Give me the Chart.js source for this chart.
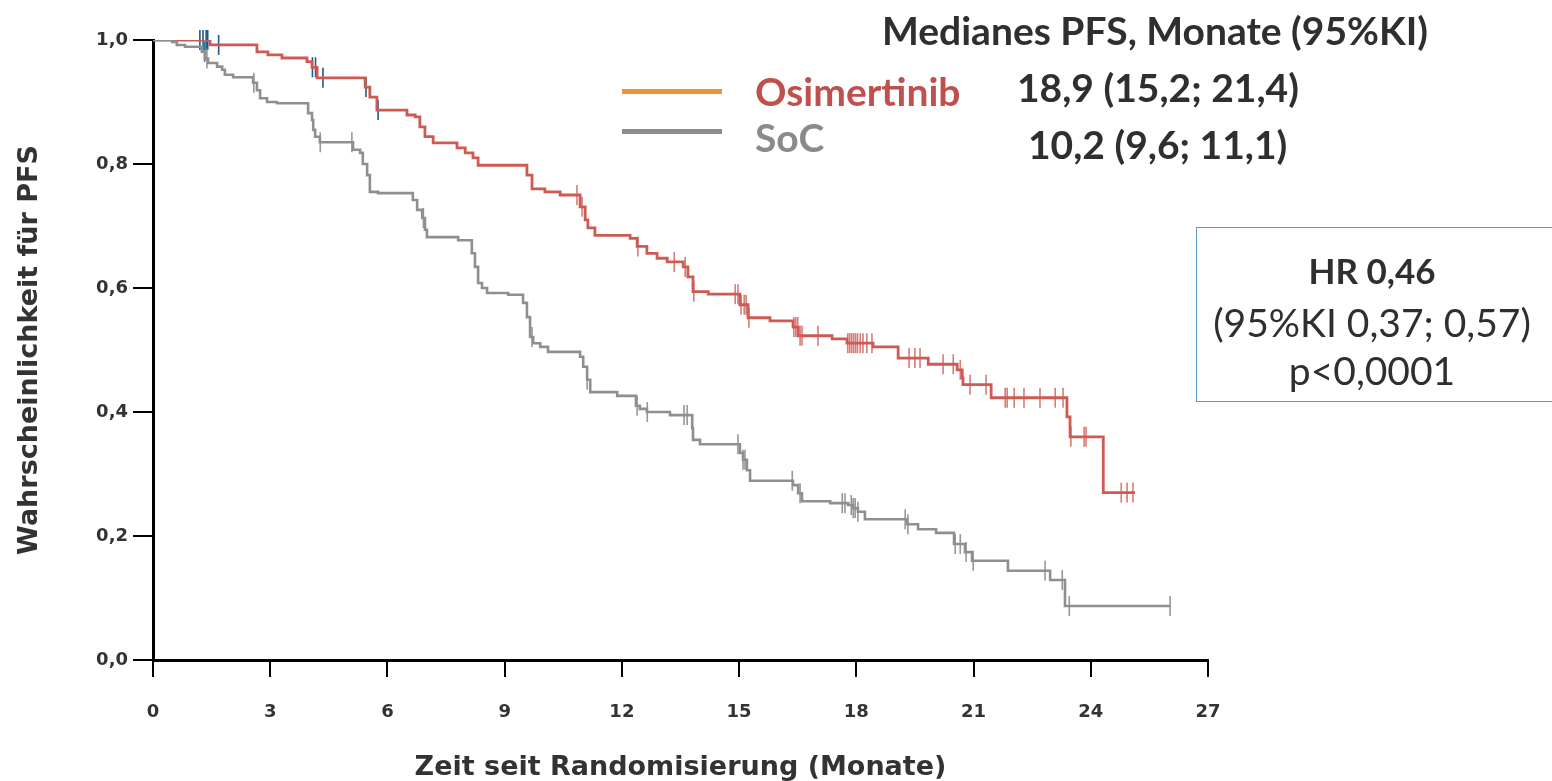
<!DOCTYPE html>
<html>
<head>
<meta charset="utf-8">
<script src="https://cdn.jsdelivr.net/npm/chart.js@4.4.1/dist/chart.umd.min.js"></script>
<style>
  html, body { margin: 0; padding: 0; background: #fff; }
  #wrap { position: relative; width: 1552px; height: 781px; overflow: hidden; }
  #km { position: absolute; left: 0; top: 0; }
  .txt { position: absolute; font-family: Lato, "Open Sans", sans-serif; color: #2f2f2f; white-space: nowrap; line-height: 1; }
  .mid { transform: translateY(-50%); }
  .ctr { transform: translate(-50%, -50%); }
  .swatch { position: absolute; width: 100px; height: 5px; }
  #hrbox { position: absolute; left: 1196px; top: 227px; width: 370px; height: 175px; border: 1.5px solid #5b9bd5; box-sizing: border-box; }
</style>
</head>
<body>
<div id="wrap">
  <canvas id="km" width="1552" height="781"></canvas>

  <div class="txt mid" style="left:882px; top:30px; font-size:39px; font-weight:700;">Medianes PFS, Monate (95%KI)</div>

  <div class="swatch" style="left:622px; top:89px; background:#f0923a;"></div>
  <div class="swatch" style="left:622px; top:129px; background:#8c8c8c;"></div>
  <div class="txt mid" style="left:755px; top:91px; font-size:39px; font-weight:700; color:#c0504d;">Osimertinib</div>
  <div class="txt mid" style="left:755px; top:137px; font-size:39px; font-weight:700; color:#8a8a8a;">SoC</div>
  <div class="txt mid" style="left:1017px; top:87px; font-size:39px; font-weight:700;">18,9 (15,2; 21,4)</div>
  <div class="txt mid" style="left:1028px; top:144px; font-size:39px; font-weight:700;">10,2 (9,6; 11,1)</div>

  <div id="hrbox"></div>
  <div class="txt ctr" style="left:1372px; top:270px; font-size:35px; font-weight:700;">HR 0,46</div>
  <div class="txt ctr" style="left:1372px; top:322px; font-size:39px;">(95%KI 0,37; 0,57)</div>
  <div class="txt ctr" style="left:1372px; top:370px; font-size:39px;">p&lt;0,0001</div>
</div>

<script>
// Kaplan-Meier Stufen: Zeitpunkt (Monate) und PFS-Wahrscheinlichkeit nach dem Ereignis
const osiTime = [0, 1.46, 2.66, 2.94, 3.30, 3.94, 4.07, 4.20, 5.43, 5.55, 5.73, 6.50, 6.71, 6.83, 6.96, 7.17,
  7.78, 7.99, 8.19, 8.32, 9.57, 9.70, 10.03, 10.42, 10.93, 11.06, 11.13, 11.31, 12.21, 12.39, 12.64, 12.90,
  13.16, 13.57, 13.69, 13.82, 14.21, 15.02, 15.23, 15.79, 16.38, 16.51, 17.38, 17.76, 18.43, 19.07, 19.84, 20.58,
  20.71, 20.73, 21.45, 23.39, 23.47, 24.32, 25.13];
const osiSurv = [1.0, 0.992, 0.981, 0.976, 0.971, 0.965, 0.956, 0.939, 0.924, 0.908, 0.887, 0.879, 0.876, 0.860, 0.844, 0.834,
  0.826, 0.818, 0.810, 0.798, 0.782, 0.760, 0.755, 0.750, 0.731, 0.710, 0.697, 0.685, 0.680, 0.667, 0.656, 0.648,
  0.642, 0.634, 0.618, 0.594, 0.590, 0.573, 0.552, 0.547, 0.537, 0.523, 0.518, 0.511, 0.505, 0.487, 0.477, 0.468,
  0.455, 0.444, 0.423, 0.392, 0.360, 0.270, 0.270];

const socTime = [0, 0.49, 0.61, 0.82, 1.25, 1.33, 1.41, 1.64, 1.77, 1.84, 2.05, 2.56, 2.66, 2.74, 2.92, 3.17,
  3.97, 4.07, 4.10, 4.15, 4.27, 5.12, 5.30, 5.37, 5.48, 5.55, 5.76, 6.65, 6.76, 6.89, 6.96, 7.01,
  7.81, 8.16, 8.24, 8.32, 8.42, 8.55, 9.09, 9.47, 9.57, 9.65, 9.73, 9.91, 10.11, 10.93, 11.01, 11.11,
  11.19, 11.88, 12.36, 12.46, 12.64, 13.23, 13.80, 13.82, 14.00, 15.02, 15.10, 15.20, 15.28, 16.38, 16.51, 16.61,
  17.33, 17.79, 17.92, 18.04, 18.22, 19.30, 19.58, 20.04, 20.50, 20.78, 20.96, 21.88, 22.96, 23.34, 26.03];
const socSurv = [1.0, 0.997, 0.992, 0.989, 0.981, 0.970, 0.963, 0.957, 0.952, 0.944, 0.940, 0.931, 0.919, 0.906, 0.900, 0.898,
  0.882, 0.871, 0.855, 0.844, 0.835, 0.823, 0.818, 0.800, 0.782, 0.755, 0.753, 0.742, 0.726, 0.713, 0.694, 0.682,
  0.677, 0.656, 0.634, 0.608, 0.600, 0.592, 0.589, 0.576, 0.553, 0.521, 0.511, 0.505, 0.497, 0.489, 0.473, 0.452,
  0.432, 0.426, 0.410, 0.405, 0.400, 0.395, 0.374, 0.355, 0.348, 0.334, 0.323, 0.306, 0.289, 0.282, 0.269, 0.256,
  0.253, 0.250, 0.245, 0.239, 0.227, 0.219, 0.211, 0.205, 0.187, 0.174, 0.160, 0.144, 0.129, 0.087, 0.087];

// zensierte Patienten (Monate)
const osiCensor = [10.85, 10.98, 12.41, 13.34, 13.62, 13.84, 14.90, 14.97, 15.05, 15.13, 15.18, 15.25, 16.40, 16.45,
  16.50, 16.56, 16.61, 17.02, 17.78, 17.83, 17.88, 17.93, 17.98, 18.03, 18.10, 18.17, 18.27, 18.40, 19.35, 19.50,
  19.63, 20.22, 20.48, 20.66, 20.91, 21.32, 21.81, 21.86, 22.04, 22.29, 22.70, 23.09, 23.29, 23.49, 23.83, 23.88,
  24.78, 24.93, 25.08];
const osiCensorBlue = [1.20, 1.28, 1.36, 1.40, 1.68, 4.08, 4.16, 4.35, 5.45, 5.76];
const socCensor = [1.38, 2.58, 4.28, 5.09, 6.92, 9.70, 11.11, 12.39, 12.65, 13.59, 13.67, 14.97, 15.10, 15.15, 16.36,
  16.56, 17.64, 17.71, 17.87, 17.92, 17.97, 18.04, 19.25, 19.32, 20.53, 20.66, 20.81, 20.99, 22.83, 23.27, 23.45, 26.03];
const socCensorBlue = [1.32];

const yTickLabels = ['0,0', '0,2', '0,4', '0,6', '0,8', '1,0'];
const xTickLabels = ['0', '3', '6', '9', '12', '15', '18', '21', '24', '27'];

function toPoints(times, surv) {
  return times.map((t, i) => ({ x: t, y: surv[i] }));
}

// Wert der Stufenkurve zum Zeitpunkt t (für die Zensurstriche)
function levelAt(times, surv, t) {
  let s = surv[0];
  for (let i = 0; i < times.length; i++) {
    if (times[i] <= t) s = surv[i];
  }
  return s;
}

function censorPoints(list, times, surv) {
  return list.map(t => ({ x: t, y: levelAt(times, surv, t) }));
}

function censorSet(label, data, color) {
  return {
    label: label,
    data: data,
    showLine: false,
    pointStyle: 'line',
    rotation: 90,
    pointRadius: 10,
    pointHoverRadius: 10,
    pointBorderWidth: 1.6,
    pointBorderColor: color,
    pointBackgroundColor: color,
    borderColor: color,
    clip: false
  };
}

const RED = '#cd5b54';
const GREY = '#8f8f8f';
const BLUE = '#1d5a86';
const axisFont = { family: '"DejaVu Sans", Arial, sans-serif', weight: 'bold', size: 18 };
const titleFont = { family: '"DejaVu Sans", Arial, sans-serif', weight: 'bold', size: 27, lineHeight: 1 };

new Chart(document.getElementById('km').getContext('2d'), {
  type: 'line',
  data: {
    datasets: [
      {
        label: 'SoC',
        data: toPoints(socTime, socSurv),
        stepped: 'before',
        borderColor: GREY,
        borderWidth: 2.6,
        pointRadius: 0,
        fill: false
      },
      {
        label: 'Osimertinib',
        data: toPoints(osiTime, osiSurv),
        stepped: 'before',
        borderColor: RED,
        borderWidth: 2.8,
        pointRadius: 0,
        fill: false
      },
      censorSet('SoC zensiert', censorPoints(socCensor, socTime, socSurv), 'rgba(140,140,140,0.9)'),
      censorSet('Osimertinib zensiert', censorPoints(osiCensor, osiTime, osiSurv), 'rgba(205,91,84,0.8)'),
      censorSet('SoC zensiert (früh)', censorPoints(socCensorBlue, socTime, socSurv), '#1f7f8f'),
      censorSet('Osimertinib zensiert (früh)', censorPoints(osiCensorBlue, osiTime, osiSurv), BLUE)
    ]
  },
  options: {
    responsive: false,
    animation: false,
    layout: { padding: { top: 40, right: 344, left: 0, bottom: 0 } },
    plugins: {
      legend: { display: false },
      tooltip: { enabled: false }
    },
    scales: {
      x: {
        type: 'linear',
        min: 0,
        max: 27,
        afterFit: scale => { scale.height = 121; },
        ticks: {
          stepSize: 3,
          padding: 25,
          color: '#333',
          font: axisFont,
          callback: (value, index) => xTickLabels[index]
        },
        grid: { drawOnChartArea: false, tickLength: 17, color: '#000', lineWidth: 2 },
        border: { display: true, color: '#000', width: 3 },
        title: {
          display: true,
          text: 'Zeit seit Randomisierung (Monate)',
          color: '#333',
          font: titleFont,
          padding: { top: 0, bottom: 0 }
        }
      },
      y: {
        min: 0,
        max: 1,
        afterFit: scale => { scale.width = 153; },
        ticks: {
          stepSize: 0.2,
          padding: 5,
          color: '#333',
          font: axisFont,
          callback: (value, index) => yTickLabels[index]
        },
        grid: { drawOnChartArea: false, tickLength: 20, color: '#000', lineWidth: 2 },
        border: { display: true, color: '#000', width: 3 },
        title: {
          display: true,
          text: 'Wahrscheinlichkeit für PFS',
          color: '#333',
          font: titleFont,
          padding: { top: 16, bottom: 0 }
        }
      }
    }
  }
});
</script>
</body>
</html>
